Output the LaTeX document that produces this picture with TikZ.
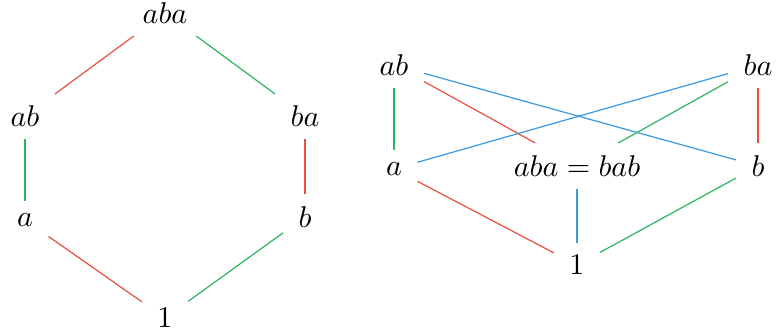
\documentclass[tikz,border=0pt]{standalone}
\usepackage{xcolor}
\definecolor{EdgeRed}{HTML}{EA4F3C}
\definecolor{EdgeGreen}{HTML}{2DB463}
\definecolor{EdgeBlue}{HTML}{3A98E0}
\usepackage{tikz}
\usetikzlibrary{positioning}

\begin{document}
\begin{tikzpicture}[x=0.333pt, y=-0.333pt,
    elem/.style={inner xsep=5pt, inner ysep=4pt},
    redge/.style={EdgeRed},
    gedge/.style={EdgeGreen},
    bedge/.style={EdgeBlue}]
  \useasboundingbox (0,0) rectangle (777,335);

  % Left: hexagon
  \node[elem] (Laba) at (165,13)  {$aba$};
  \node[elem] (Lab)  at (25,116)  {$ab$};
  \node[elem] (Lba)  at (305,116) {$ba$};
  \node[elem] (La)   at (25,220)  {$a$};
  \node[elem] (Lb)   at (305,217) {$b$};
  \node[elem] (Lone) at (165,318) {$1$};

  \draw[redge] (Lab) -- (Laba);
  \draw[gedge] (Lba) -- (Laba);
  \draw[gedge] (La) -- (Lab);
  \draw[redge] (Lb) -- (Lba);
  \draw[redge] (Lone) -- (La);
  \draw[gedge] (Lone) -- (Lb);

  % Right: collapsed lattice
  \node[elem] (Rab)  at (394,65)  {$ab$};
  \node[elem] (Rba)  at (758,65)  {$ba$};
  \node[elem] (Ra)   at (394,169) {$a$};
  \node[elem] (Rmid) at (577,166) {$aba = bab$};
  \node[elem] (Rb)   at (758,166) {$b$};
  \node[elem] (Rone) at (577,265) {$1$};

  \draw[gedge] (Ra) -- (Rab);
  \draw[redge] (Rmid) -- (Rab);
  \draw[bedge] (Rb) -- (Rab);
  \draw[bedge] (Ra) -- (Rba);
  \draw[gedge] (Rmid) -- (Rba);
  \draw[redge] (Rb) -- (Rba);
  \draw[redge] (Rone) -- (Ra);
  \draw[bedge] (Rone) -- (Rmid);
  \draw[gedge] (Rone) -- (Rb);
\end{tikzpicture}
\end{document}
